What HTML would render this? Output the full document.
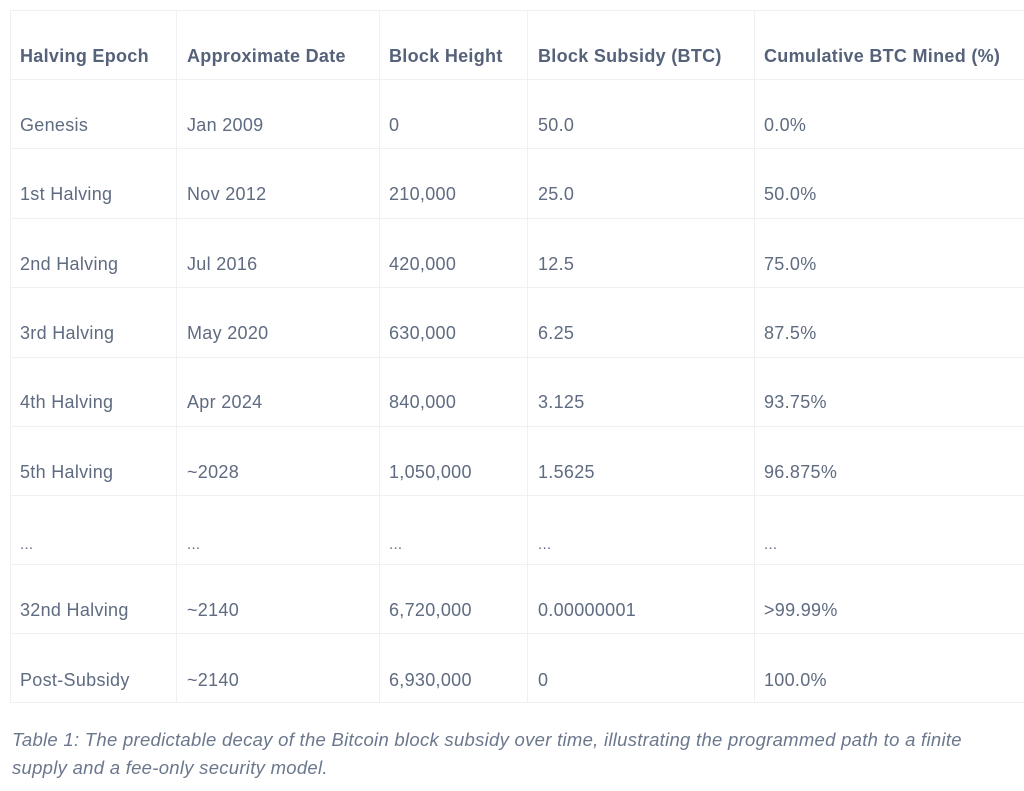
<!DOCTYPE html>
<html><head><meta charset="utf-8"><style>
body{margin:0;width:1024px;height:791px;background:#fff;position:relative;overflow:hidden;font-family:"Liberation Sans",sans-serif;color:#5f6b80}
.h{position:absolute;left:10px;width:1030px;height:1px;background:#eef0f3}
.v{position:absolute;top:10px;height:692px;width:1px;background:#eef0f3}
.t{position:absolute;font-size:18px;line-height:22px;white-space:nowrap;letter-spacing:0.3px}
.b{font-weight:bold;color:#56627a}
.e{font-size:15px;top:534px}
.cap{position:absolute;left:12px;font-size:18.5px;font-style:italic;color:#6b778c;white-space:nowrap;letter-spacing:0.28px}
</style></head><body>
<div class="h" style="top:10px"></div><div class="h" style="top:79px"></div><div class="h" style="top:148px"></div><div class="h" style="top:218px"></div><div class="h" style="top:287px"></div><div class="h" style="top:357px"></div><div class="h" style="top:426px"></div><div class="h" style="top:495px"></div><div class="h" style="top:564px"></div><div class="h" style="top:633px"></div><div class="h" style="top:702px"></div>
<div class="v" style="left:10px"></div><div class="v" style="left:176px"></div><div class="v" style="left:379px"></div><div class="v" style="left:527px"></div><div class="v" style="left:754px"></div>

<div class="t b" style="top:45px;left:20px">Halving Epoch</div><div class="t b" style="top:45px;left:187px">Approximate Date</div><div class="t b" style="top:45px;left:389px">Block Height</div><div class="t b" style="top:45px;left:538px">Block Subsidy (BTC)</div><div class="t b" style="top:45px;left:764px">Cumulative BTC Mined (%)</div>

<div class="t" style="top:114px;left:20px">Genesis</div><div class="t" style="top:114px;left:187px">Jan 2009</div><div class="t" style="top:114px;left:389px">0</div><div class="t" style="top:114px;left:538px">50.0</div><div class="t" style="top:114px;left:764px">0.0%</div>

<div class="t" style="top:183px;left:20px">1st Halving</div><div class="t" style="top:183px;left:187px">Nov 2012</div><div class="t" style="top:183px;left:389px">210,000</div><div class="t" style="top:183px;left:538px">25.0</div><div class="t" style="top:183px;left:764px">50.0%</div>

<div class="t" style="top:253px;left:20px">2nd Halving</div><div class="t" style="top:253px;left:187px">Jul 2016</div><div class="t" style="top:253px;left:389px">420,000</div><div class="t" style="top:253px;left:538px">12.5</div><div class="t" style="top:253px;left:764px">75.0%</div>

<div class="t" style="top:322px;left:20px">3rd Halving</div><div class="t" style="top:322px;left:187px">May 2020</div><div class="t" style="top:322px;left:389px">630,000</div><div class="t" style="top:322px;left:538px">6.25</div><div class="t" style="top:322px;left:764px">87.5%</div>

<div class="t" style="top:391px;left:20px">4th Halving</div><div class="t" style="top:391px;left:187px">Apr 2024</div><div class="t" style="top:391px;left:389px">840,000</div><div class="t" style="top:391px;left:538px">3.125</div><div class="t" style="top:391px;left:764px">93.75%</div>

<div class="t" style="top:461px;left:20px">5th Halving</div><div class="t" style="top:461px;left:187px">~2028</div><div class="t" style="top:461px;left:389px">1,050,000</div><div class="t" style="top:461px;left:538px">1.5625</div><div class="t" style="top:461px;left:764px">96.875%</div>

<div class="t e" style="left:20px">...</div><div class="t e" style="left:187px">...</div><div class="t e" style="left:389px">...</div><div class="t e" style="left:538px">...</div><div class="t e" style="left:764px">...</div>

<div class="t" style="top:599px;left:20px">32nd Halving</div><div class="t" style="top:599px;left:187px">~2140</div><div class="t" style="top:599px;left:389px">6,720,000</div><div class="t" style="top:599px;left:538px">0.00000001</div><div class="t" style="top:599px;left:764px">&gt;99.99%</div>

<div class="t" style="top:669px;left:20px">Post-Subsidy</div><div class="t" style="top:669px;left:187px">~2140</div><div class="t" style="top:669px;left:389px">6,930,000</div><div class="t" style="top:669px;left:538px">0</div><div class="t" style="top:669px;left:764px">100.0%</div>

<div class="cap" style="top:729px">Table 1: The predictable decay of the Bitcoin block subsidy over time, illustrating the programmed path to a finite</div>
<div class="cap" style="top:757px">supply and a fee-only security model.</div>
</body></html>
